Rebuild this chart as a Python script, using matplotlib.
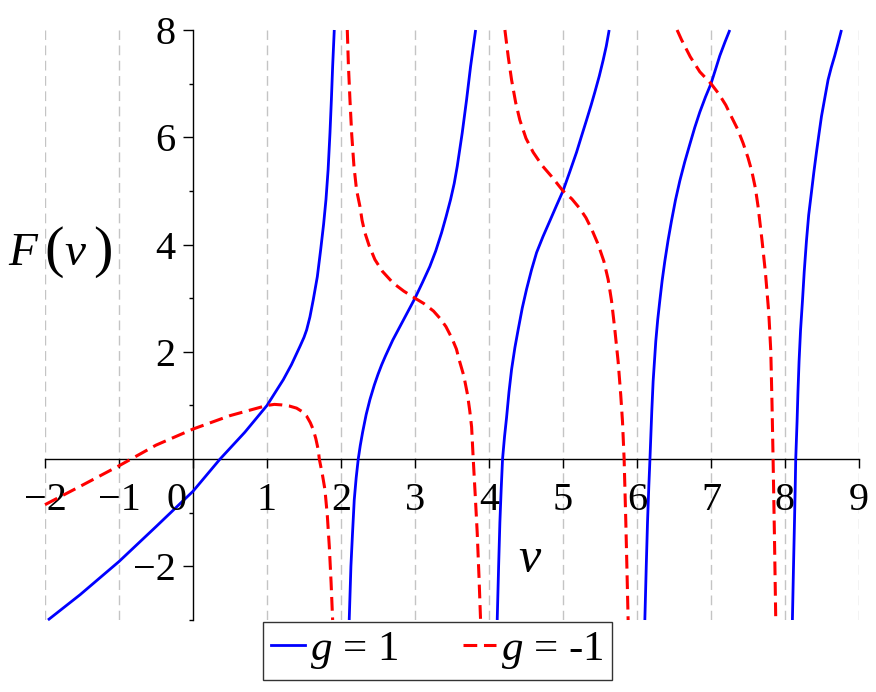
import matplotlib
matplotlib.use("Agg")
import matplotlib.pyplot as plt
from matplotlib.lines import Line2D
from matplotlib.transforms import ScaledTranslation

plt.rcParams['font.family'] = ['Liberation Serif', 'DejaVu Serif']
plt.rcParams['mathtext.fontset'] = 'custom'
plt.rcParams['mathtext.rm'] = 'Liberation Serif'
plt.rcParams['mathtext.it'] = 'Liberation Serif:italic'

# ---- values: g = 1 (blue, solid), one list per branch ----
nu_b1 = [-1.96, -1.527, -1.0, -0.5, 0.0, 0.365, 0.7, 1.0, 1.22, 1.33, 1.445, 1.5, 1.536, 1.58, 1.625,
         1.68, 1.725, 1.765, 1.797, 1.826, 1.851, 1.87, 1.887, 1.909]
F_b1 = [-3.0, -2.53, -1.91, -1.26, -0.6, 0.0, 0.5, 1.0, 1.48, 1.76, 2.1, 2.27, 2.41, 2.65, 2.97,
        3.40, 3.90, 4.38, 4.84, 5.40, 6.08, 6.70, 7.32, 8.0]

nu_b2 = [2.111, 2.134, 2.155, 2.179, 2.205, 2.233, 2.26, 2.292, 2.34, 2.391, 2.45, 2.5, 2.55, 2.6, 2.7,
         2.8, 2.9, 3.0, 3.1, 3.2, 3.28, 3.359, 3.42, 3.481, 3.53, 3.571, 3.638, 3.697, 3.751, 3.819]
F_b2 = [-3.0, -2.0, -1.4, -0.76, -0.35, 0.0, 0.25, 0.5, 0.83, 1.11, 1.38, 1.58, 1.76, 1.92, 2.22,
        2.48, 2.74, 3.0, 3.29, 3.59, 3.88, 4.22, 4.52, 4.84, 5.14, 5.46, 6.08, 6.70, 7.32, 8.0]

nu_b3 = [4.111, 4.13, 4.147, 4.165, 4.183, 4.21, 4.237, 4.27, 4.305, 4.35, 4.395, 4.45, 4.508, 4.575,
         4.643, 4.73, 4.822, 4.91, 5.0, 5.09, 5.183, 5.25, 5.318, 5.38, 5.43, 5.49, 5.543, 5.585, 5.624]
F_b3 = [-3.0, -2.0, -1.18, -0.55, 0.0, 0.42, 0.77, 1.25, 1.67, 2.08, 2.42, 2.82, 3.17, 3.53,
        3.85, 4.15, 4.44, 4.72, 5.0, 5.35, 5.72, 6.02, 6.32, 6.60, 6.84, 7.14, 7.44, 7.70, 8.0]

nu_b4 = [6.106, 6.125, 6.142, 6.16, 6.175, 6.2, 6.218, 6.254, 6.28, 6.308, 6.34, 6.376, 6.42, 6.466,
         6.52, 6.579, 6.645, 6.714, 6.78, 6.849, 6.925, 7.0, 7.06, 7.119, 7.19, 7.254]
F_b4 = [-3.0, -2.0, -1.18, -0.5, 0.0, 0.9, 1.45, 2.20, 2.60, 2.95, 3.33, 3.69, 4.08, 4.44,
        4.83, 5.19, 5.54, 5.87, 6.18, 6.47, 6.75, 7.0, 7.26, 7.52, 7.78, 8.0]

nu_b5 = [8.10, 8.115, 8.128, 8.137, 8.145, 8.163, 8.175, 8.19, 8.21, 8.236, 8.26, 8.29, 8.32, 8.357,
         8.39, 8.425, 8.46, 8.493, 8.54, 8.582, 8.625, 8.672, 8.72, 8.763]
F_b5 = [-3.0, -2.0, -1.18, -0.6, 0.0, 0.70, 1.25, 1.82, 2.40, 2.95, 3.50, 4.07, 4.55, 4.97,
        5.35, 5.72, 6.07, 6.39, 6.75, 7.07, 7.30, 7.52, 7.77, 8.0]

# ---- g = -1 (red, dashed) ----
nu_r1 = [-2.0, -1.5, -1.0, -0.5, 0.0, 0.5, 1.0, 1.1, 1.2, 1.3, 1.4, 1.47, 1.536, 1.585, 1.625, 1.66,
         1.693, 1.707, 1.75, 1.783, 1.815, 1.842, 1.866, 1.887]
F_r1 = [-0.85, -0.49, -0.125, 0.26, 0.56, 0.81, 1.0, 1.02, 1.01, 0.99, 0.95, 0.89, 0.80, 0.68, 0.55, 0.38,
        0.17, 0.0, -0.3, -0.57, -1.05, -1.63, -2.3, -3.0]

nu_r2 = [2.085, 2.1, 2.121, 2.145, 2.175, 2.21, 2.256, 2.285, 2.323, 2.38, 2.458, 2.56, 2.706, 2.85,
         3.0, 3.12, 3.25, 3.34, 3.418, 3.5, 3.56, 3.597, 3.66, 3.71, 3.74, 3.765, 3.787, 3.815, 3.841,
         3.865, 3.886]
F_r2 = [8.0, 7.35, 6.70, 6.05, 5.46, 5.02, 4.71, 4.45, 4.22, 3.98, 3.72, 3.50, 3.28, 3.13,
        3.0, 2.90, 2.76, 2.62, 2.47, 2.25, 2.05, 1.85, 1.55, 1.20, 0.90, 0.60, 0.0, -0.7, -1.38,
        -2.2, -3.0]

nu_r3 = [4.215, 4.26, 4.305, 4.36, 4.417, 4.5, 4.597, 4.72, 4.845, 5.0, 5.12, 5.228, 5.31, 5.386,
         5.47, 5.552, 5.61, 5.656, 5.70, 5.745, 5.78, 5.804, 5.826, 5.849, 5.865, 5.88]
F_r3 = [8.0, 7.5, 7.07, 6.65, 6.32, 5.98, 5.72, 5.47, 5.27, 5.0, 4.85, 4.67, 4.50, 4.29,
        4.02, 3.69, 3.35, 2.95, 2.42, 1.82, 1.20, 0.70, 0.0, -1.18, -2.1, -3.0]

nu_r4 = [6.542, 6.601, 6.72, 6.849, 7.0, 7.105, 7.2, 7.277, 7.36, 7.434, 7.5, 7.551, 7.6, 7.636,
         7.69, 7.736, 7.781, 7.808, 7.825, 7.839, 7.857, 7.875]
F_r4 = [8.0, 7.82, 7.5, 7.22, 7.0, 6.81, 6.6, 6.38, 6.15, 5.89, 5.62, 5.37, 5.05, 4.71,
        4.07, 3.47, 2.72, 2.01, 1.0, 0.0, -1.4, -3.0]

x_ticks = [-2, -1, 0, 1, 2, 3, 4, 5, 6, 7, 8, 9]
x_ticklabels = ['\u22122', '\u22121', '', '1', '2', '3', '4', '5', '6', '7', '8', '9']
y_major = [-2, 2, 4, 6, 8]
y_ticklabels = ['\u22122', '2', '4', '6', '8']
y_minor = [-3, -1, 1, 3, 5, 7]
legend_labels = ['$g$ = 1', '$g$ = -1']

W, H = 876, 692
fig = plt.figure(figsize=(W / 100, H / 100), dpi=100)
ax = fig.add_axes([45 / W, 1 - 620 / H, 814 / W, 590 / H])
ax.set_xlim(-2, 9)
ax.set_ylim(-3, 8)

# vertical dashed grid
for xv in x_ticks:
    if xv != 0:
        ax.axvline(xv, color='#c4c4c4', lw=1.0, ls=(0, (7, 4)), zorder=0)

blue = '#0000ff'
red = '#ff0000'
lw_b = 2.0
lw_r = 2.2
dash = (0, (4.5, 2.2))
for nu, F in [(nu_b1, F_b1), (nu_b2, F_b2), (nu_b3, F_b3), (nu_b4, F_b4), (nu_b5, F_b5)]:
    ax.plot(nu, F, color=blue, lw=lw_b, solid_capstyle='butt', solid_joinstyle='round',
            clip_on=False, zorder=3)
for nu, F in [(nu_r1, F_r1), (nu_r2, F_r2), (nu_r3, F_r3), (nu_r4, F_r4)]:
    ax.plot(nu, F, color=red, lw=lw_r, ls=dash, clip_on=False, zorder=3)

# axes through the origin
for s in ['top', 'right']:
    ax.spines[s].set_visible(False)
ax.spines['left'].set_position(('data', 0))
ax.spines['bottom'].set_position(('data', 0))
ax.spines['left'].set_linewidth(1.0)
ax.spines['bottom'].set_linewidth(1.0)

tick_fs = 29
ax.set_xticks(x_ticks)
ax.set_xticklabels(x_ticklabels, fontsize=tick_fs)
ax.set_yticks(y_major)
ax.set_yticklabels(y_ticklabels, fontsize=tick_fs)
ax.set_yticks(y_minor, minor=True)
ax.tick_params(axis='x', direction='out', length=6.5, width=1.0, pad=10)
ax.tick_params(axis='y', which='major', direction='out', length=7, width=1.0, pad=5.5)
ax.tick_params(axis='y', which='minor', direction='out', length=3, width=1.0)
ax.text(0, 0, '0', fontsize=tick_fs, ha='right', va='top',
        transform=ax.transData + ScaledTranslation(-4.5 / 72, -16.5 / 72, fig.dpi_scale_trans))

# axis labels
def ftext(px, py, s, **kw):
    fig.text(px / W, 1 - py / H, s, **kw)

ftext(529, 560, '\u03bd', fontsize=36, style='italic', ha='center', va='center')
ftext(8, 254, 'F', fontsize=34, style='italic', ha='left', va='center')
ftext(44, 252, '(', fontsize=42, ha='left', va='center')
ftext(64, 254, '\u03bd', fontsize=34, style='italic', ha='left', va='center')
ftext(93, 252, ')', fontsize=42, ha='left', va='center')

# legend
handles = [Line2D([], [], color=blue, lw=lw_b), Line2D([], [], color=red, lw=lw_r, ls=dash)]
leg = fig.legend(handles, legend_labels, loc='upper left', bbox_to_anchor=(263 / W, 1 - 622 / H),
                 ncol=2, fontsize=31, frameon=True, fancybox=False, borderaxespad=0,
                 handlelength=0.78, handletextpad=0.12, columnspacing=1.5, borderpad=0.19)
leg.get_frame().set_edgecolor('black')
leg.get_frame().set_linewidth(1.0)

fig.savefig('out.png', dpi=100)
